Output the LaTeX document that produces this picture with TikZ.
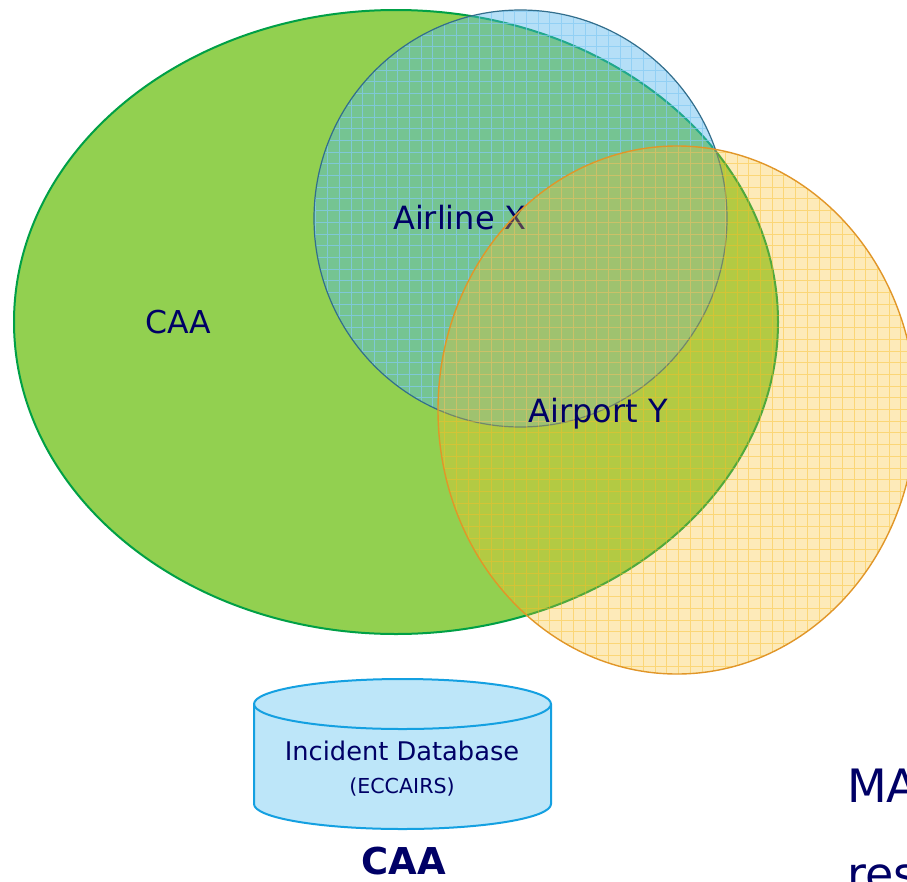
\documentclass[tikz,border=0pt]{standalone}
\usepackage{fontspec}
\setmainfont{DejaVu Sans}
\usetikzlibrary{shapes.geometric}
\definecolor{caagreen}{RGB}{146,208,80}
\definecolor{caaedge}{RGB}{0,160,70}
\definecolor{airblue}{RGB}{79,181,238}
\definecolor{airedge}{RGB}{50,110,140}
\definecolor{portorange}{RGB}{250,190,40}
\definecolor{portedge}{RGB}{225,150,40}
\definecolor{dbfill}{RGB}{189,230,249}
\definecolor{dbedge}{RGB}{20,160,225}
\definecolor{navytext}{RGB}{0,0,102}
\tikzset{
	label/.style={text=navytext, inner sep=0pt, font=\fontsize{#1}{#1}\selectfont},
	label/.default=30,
}
\begin{document}
\begin{tikzpicture}[x=1pt,y=-1pt]
		\clip (0,0) rectangle (907,881);
		\fill[white] (0,0) rectangle (907,881);
		\node[
		ellipse, draw=caaedge, fill=caagreen, line width=2pt,
		minimum width=764pt, minimum height=624pt, inner sep=0pt,
		] (caa) at (396,322) {};
		\node[label=31.5] (caatext) at (178,322) {CAA};
		\begin{scope}
		\clip (520.5,218.5) ellipse [x radius=206.5, y radius=208.5];
		\fill[airblue, fill opacity=0.42] (300,0) rectangle (740,440);
		\draw[airblue!70!white, opacity=0.7, line width=1pt, step=11.7pt] (300,0) grid (740,440);
		\end{scope}
		\node[
		ellipse, draw=airedge, line width=1.2pt,
		minimum width=413pt, minimum height=417pt, inner sep=0pt,
		] (airline) at (520.5,218.5) {};
		\node[label=32] (airlinetext) at (460,218) {Airline X};
		\begin{scope}
		\clip (677,410) ellipse [x radius=239, y radius=264];
		\fill[portorange, fill opacity=0.32] (430,140) rectangle (920,680);
		\draw[portorange, opacity=0.45, line width=1pt, step=11.7pt] (430,140) grid (920,680);
		\end{scope}
		\node[
		ellipse, draw=portedge, line width=1.4pt,
		minimum width=478pt, minimum height=528pt, inner sep=0pt,
		] (airport) at (677,410) {};
		\node[label=32] (airporttext) at (598,414) {Airport Y};
		\filldraw[draw=dbedge, fill=dbfill, line width=2pt]
		(254,704) arc [start angle=180, end angle=0, x radius=148.5, y radius=-25]
		-- (551,804) arc [start angle=0, end angle=-180, x radius=148.5, y radius=-25]
		-- cycle;
		\draw[dbedge, line width=2pt] (254,704) arc [start angle=180, end angle=360, x radius=148.5, y radius=-25];
		\node[label=25.7] (dbtext) at (402,751) {Incident Database};
		\node[label=20.6] (dbsub) at (402,787) {(ECCAIRS)};
		\node[label=37, font=\bfseries\fontsize{37}{37}\selectfont] (dbname) at (404,861) {CAA};
		\node[label=46, anchor=base west] (ma) at (847,802) {MA};
		\node[label=46, anchor=base west] (res) at (847,890) {res};
		\end{tikzpicture}
\end{document}
